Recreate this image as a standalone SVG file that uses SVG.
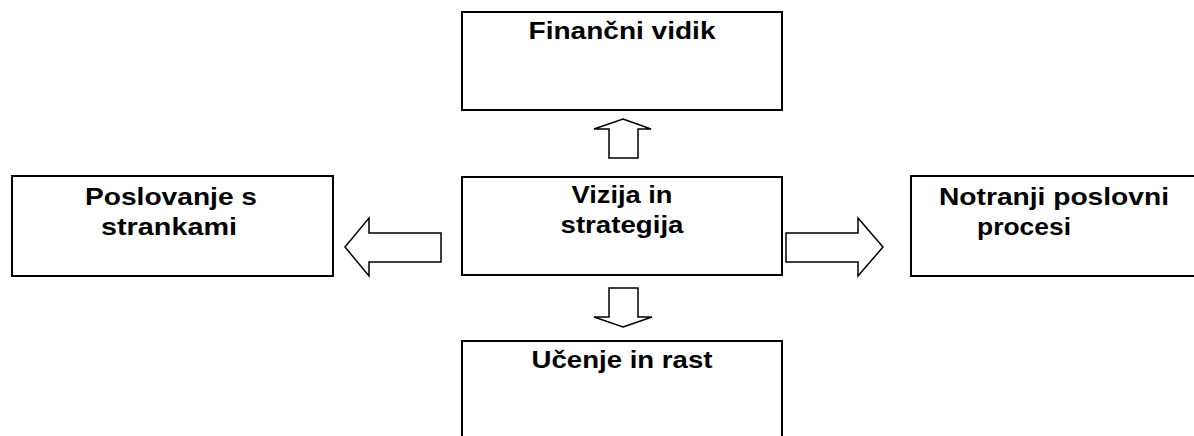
<svg xmlns="http://www.w3.org/2000/svg" width="1194" height="436" viewBox="0 0 1194 436">
<style>
.box{fill:#fff;stroke:#000;stroke-width:2}
.arr{fill:#fff;stroke:#000;stroke-width:1.5;stroke-linejoin:miter}
.t{font-family:"Liberation Sans",Arial,sans-serif;font-weight:bold;font-size:24px;fill:#000;text-anchor:middle}
</style>
<rect width="1194" height="436" fill="#fff"/>
<g id="connectors">
<polygon class="arr" points="623,119 651,129 638,129 638,158 609,158 609,129 594,129"/>
<polygon class="arr" points="623,327 652,317 638,317 638,288 609,288 609,317 594,317"/>
<polygon class="arr" points="345,247 369,218 369,233 441,233 441,262 369,262 369,276"/>
<polygon class="arr" points="883,247 858,218 858,233 786,233 786,262 858,262 858,276"/>
</g>
<g id="node-financni">
<rect class="box" x="462" y="12" width="320" height="98"/>
<text class="t" x="622" y="39" textLength="187" lengthAdjust="spacingAndGlyphs">Finančni vidik</text>
</g>
<g id="node-vizija">
<rect class="box" x="462" y="177" width="320" height="98"/>
<text class="t" x="622" y="203" textLength="101" lengthAdjust="spacingAndGlyphs">Vizija in</text>
<text class="t" x="622" y="233" textLength="123" lengthAdjust="spacingAndGlyphs">strategija</text>
</g>
<g id="node-stranke">
<rect class="box" x="12" y="176" width="321" height="100"/>
<text class="t" x="171" y="205" textLength="172" lengthAdjust="spacingAndGlyphs">Poslovanje s</text>
<text class="t" x="169" y="235" textLength="136" lengthAdjust="spacingAndGlyphs">strankami</text>
</g>
<g id="node-procesi">
<rect class="box" x="911" y="176" width="300" height="100"/>
<text class="t" x="1054" y="205" textLength="230" lengthAdjust="spacingAndGlyphs">Notranji poslovni</text>
<text class="t" x="1024" y="235" textLength="94" lengthAdjust="spacingAndGlyphs">procesi</text>
</g>
<g id="node-ucenje">
<rect class="box" x="462" y="341" width="320" height="120"/>
<text class="t" x="622" y="368" textLength="181" lengthAdjust="spacingAndGlyphs">Učenje in rast</text>
</g>
</svg>
